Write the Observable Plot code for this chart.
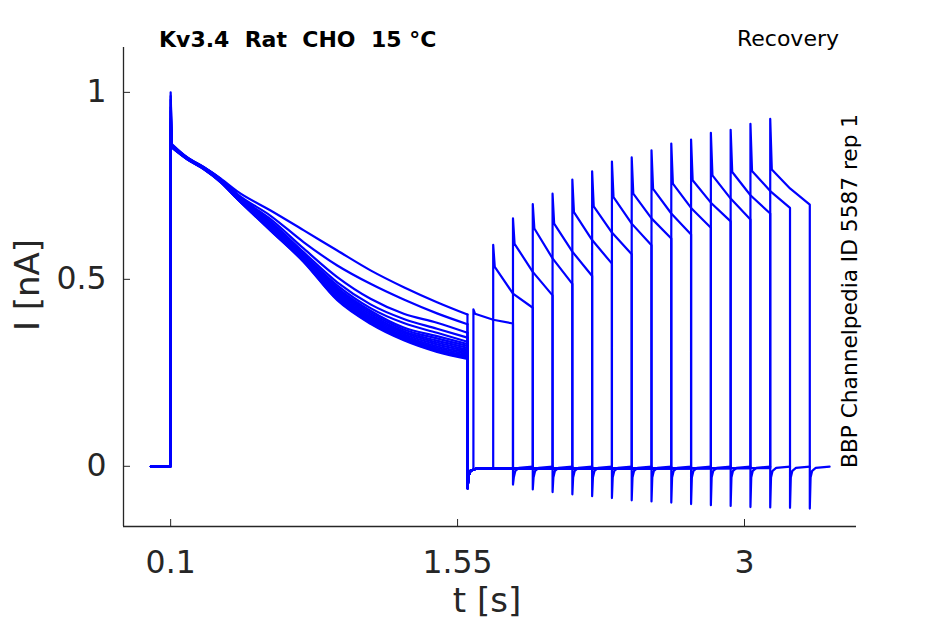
<!DOCTYPE html>
<html>
<head>
<meta charset="utf-8">
<script src="https://cdn.jsdelivr.net/npm/d3@7"></script>
<script src="https://cdn.jsdelivr.net/npm/@observablehq/plot@0.6"></script>
<style>
  html, body { margin: 0; padding: 0; background: #fff; }
</style>
</head>
<body>
<div id="chart"></div>
<script>
// ---------------- data ----------------
const xTicks = [0.1, 1.55, 3];
const yTicks = [0, 0.5, 1];

// conditioning pulse (0.1 s -> 1.6 s), sampled at these times
const condTimes = [0.106, 0.184, 0.268, 0.352, 0.437, 0.605, 0.773, 0.942, 1.110, 1.278, 1.446, 1.6];
const condPeak = [1.0, 0.99, 0.98, 0.96, 0.95, 0.93, 0.92, 0.91, 0.90, 0.90, 0.89, 0.89, 0.88, 0.88, 0.87, 0.87];
const cond00 = [0.862, 0.826, 0.800, 0.770, 0.735, 0.684, 0.631, 0.577, 0.524, 0.479, 0.439, 0.406];
const cond01 = [0.860, 0.826, 0.800, 0.769, 0.728, 0.670, 0.599, 0.537, 0.488, 0.446, 0.409, 0.380];
const cond02 = [0.859, 0.825, 0.799, 0.768, 0.725, 0.661, 0.582, 0.506, 0.448, 0.408, 0.384, 0.357];
const cond03 = [0.858, 0.825, 0.799, 0.767, 0.722, 0.655, 0.572, 0.492, 0.433, 0.394, 0.368, 0.344];
const cond04 = [0.858, 0.824, 0.798, 0.766, 0.720, 0.651, 0.566, 0.484, 0.423, 0.383, 0.357, 0.333];
const cond05 = [0.857, 0.824, 0.798, 0.765, 0.719, 0.648, 0.566, 0.478, 0.416, 0.371, 0.348, 0.327];
const cond06 = [0.857, 0.824, 0.797, 0.764, 0.719, 0.646, 0.563, 0.474, 0.411, 0.366, 0.342, 0.322];
const cond07 = [0.856, 0.823, 0.797, 0.764, 0.718, 0.644, 0.560, 0.470, 0.406, 0.361, 0.336, 0.317];
const cond08 = [0.856, 0.823, 0.797, 0.763, 0.718, 0.642, 0.558, 0.466, 0.401, 0.357, 0.331, 0.312];
const cond09 = [0.855, 0.823, 0.796, 0.763, 0.717, 0.640, 0.556, 0.462, 0.397, 0.353, 0.326, 0.308];
const cond10 = [0.855, 0.822, 0.796, 0.762, 0.717, 0.638, 0.554, 0.458, 0.393, 0.349, 0.321, 0.304];
const cond11 = [0.854, 0.822, 0.796, 0.762, 0.716, 0.636, 0.552, 0.455, 0.390, 0.346, 0.317, 0.300];
const cond12 = [0.854, 0.822, 0.795, 0.761, 0.716, 0.634, 0.550, 0.452, 0.387, 0.343, 0.313, 0.296];
const cond13 = [0.853, 0.821, 0.795, 0.761, 0.715, 0.633, 0.549, 0.449, 0.385, 0.341, 0.310, 0.293];
const cond14 = [0.853, 0.821, 0.795, 0.760, 0.715, 0.631, 0.547, 0.446, 0.383, 0.339, 0.308, 0.290];
const cond15 = [0.852, 0.821, 0.794, 0.760, 0.715, 0.630, 0.546, 0.444, 0.381, 0.337, 0.306, 0.287];
const condSweeps = [cond00, cond01, cond02, cond03, cond04, cond05, cond06, cond07,
                    cond08, cond09, cond10, cond11, cond12, cond13, cond14, cond15];

// tail after the conditioning pulse: [dt, I]
const condTail = [[0, -0.059], [0.006, -0.026], [0.015, -0.012], [0.04, -0.007]];
const gapLevel = -0.005;

// test pulses
const testOnset   = [1.63, 1.73, 1.83, 1.93, 2.03, 2.13, 2.23, 2.33, 2.43, 2.53, 2.63, 2.73, 2.83, 2.93, 3.03, 3.13];
const testPeak    = [0.420, 0.592, 0.663, 0.701, 0.729, 0.767, 0.789, 0.815, 0.826, 0.845, 0.863, 0.874, 0.892, 0.900, 0.916, 0.929];
const testPlateau = [0.408, 0.533, 0.595, 0.636, 0.649, 0.680, 0.695, 0.720, 0.729, 0.742, 0.756, 0.765, 0.778, 0.787, 0.790, 0.794];
const testMid     = [0.392, 0.462, 0.520, 0.556, 0.574, 0.605, 0.625, 0.649, 0.663, 0.676, 0.691, 0.705, 0.716, 0.725, 0.736, 0.743];
const testEnd     = [0.382, 0.424, 0.457, 0.488, 0.509, 0.542, 0.567, 0.591, 0.609, 0.620, 0.638, 0.655, 0.660, 0.676, 0.691, 0.700];
const testTailMin = [-0.049, -0.062, -0.069, -0.075, -0.080, -0.085, -0.091, -0.094, -0.097, -0.101, -0.104, -0.106, -0.109, -0.110, -0.111, -0.113];
// timing of the test pulse: [dt after onset] for plateau, mid, end
const testTimes = [0.008, 0.1, 0.2];
// tail after test pulse: [dt, I]
const testTail = [[0.004, -0.03], [0.012, -0.012], [0.03, -0.004], [0.1, -0.001]];

// ---------------- build tables ----------------
const decay = [];   // smooth conditioning decay
const steps = [];   // steps, tails and test pulses
condSweeps.forEach((cv, k) => {
  const push = (t, I, seg) => steps.push({key: `${k}-${seg}`, t, I});
  condTimes.forEach((t, i) => decay.push({sweep: k, t, I: cv[i]}));
  // onset of conditioning pulse
  push(0, 0, "a");
  push(0.1, 0, "a");
  push(0.1, condPeak[k], "a");
  push(condTimes[0], cv[0], "a");
  // end of conditioning, tail, and test pulse
  const tc = condTimes[condTimes.length - 1];
  push(tc, cv[cv.length - 1], "b");
  condTail.forEach(([dt, I]) => push(tc + dt, I, "b"));
  const t0 = testOnset[k];
  push(t0, gapLevel, "b");
  push(t0, testPeak[k], "b");
  push(t0 + testTimes[0], testPlateau[k], "b");
  push(t0 + testTimes[1], testMid[k], "b");
  push(t0 + testTimes[2], testEnd[k], "b");
  const te = t0 + testTimes[2];
  push(te, testTailMin[k], "b");
  testTail.forEach(([dt, I]) => push(te + dt, I, "b"));
});

// ---------------- plot ----------------
const axisColor = "#262626";
const blue = "#0000ff";
const svg = Plot.plot({
  width: 945,
  height: 624,
  marginLeft: 123,
  marginRight: 89,
  marginTop: 47,
  marginBottom: 98,
  style: {fontFamily: "DejaVu Sans", background: "#fff"},
  x: {domain: [-0.1383, 3.566]},
  y: {domain: [-0.161, 1.12]},
  marks: [
    Plot.line(decay, {x: "t", y: "I", z: "sweep", stroke: blue, strokeWidth: 2.2, curve: "monotone-x"}),
    Plot.line(steps, {x: "t", y: "I", z: "key", stroke: blue, strokeWidth: 2.2, strokeLinejoin: "round"}),
    Plot.ruleY([-0.161], {stroke: axisColor, strokeWidth: 1.3}),
    Plot.ruleX([-0.1383], {stroke: axisColor, strokeWidth: 1.3}),
    Plot.axisX({ticks: xTicks, tickSize: -7, tickPadding: 31, fontSize: 31.5, color: axisColor,
                tickFormat: d => String(d), label: null}),
    Plot.axisY({ticks: yTicks, tickSize: -7, tickPadding: 24, fontSize: 31.5, color: axisColor,
                tickFormat: d => String(d), label: null})
  ]
});

const s = d3.select(svg);
s.append("text")
  .attr("x", 159).attr("y", 47).attr("text-anchor", "start")
  .attr("font-family", "DejaVu Sans").attr("font-weight", "bold").attr("font-size", 22)
  .attr("fill", "#000").style("white-space", "pre")
  .text("Kv3.4  Rat  CHO  15 °C");
s.append("text")
  .attr("x", 839).attr("y", 46).attr("text-anchor", "end")
  .attr("font-family", "DejaVu Sans").attr("font-size", 22)
  .attr("fill", "#000")
  .text("Recovery");
s.append("text")
  .attr("transform", "translate(857,468) rotate(-90)").attr("text-anchor", "start")
  .attr("font-family", "DejaVu Sans").attr("font-size", 21.7)
  .attr("fill", "#000")
  .text("BBP Channelpedia ID 5587 rep 1");
s.append("text")
  .attr("x", 487).attr("y", 612).attr("text-anchor", "middle")
  .attr("font-family", "DejaVu Sans").attr("font-size", 34)
  .attr("fill", axisColor)
  .text("t [s]");
s.append("text")
  .attr("transform", "translate(39,285) rotate(-90)").attr("text-anchor", "middle")
  .attr("font-family", "DejaVu Sans").attr("font-size", 34)
  .attr("fill", axisColor)
  .text("I [nA]");

document.getElementById("chart").appendChild(svg);
</script>
</body>
</html>
